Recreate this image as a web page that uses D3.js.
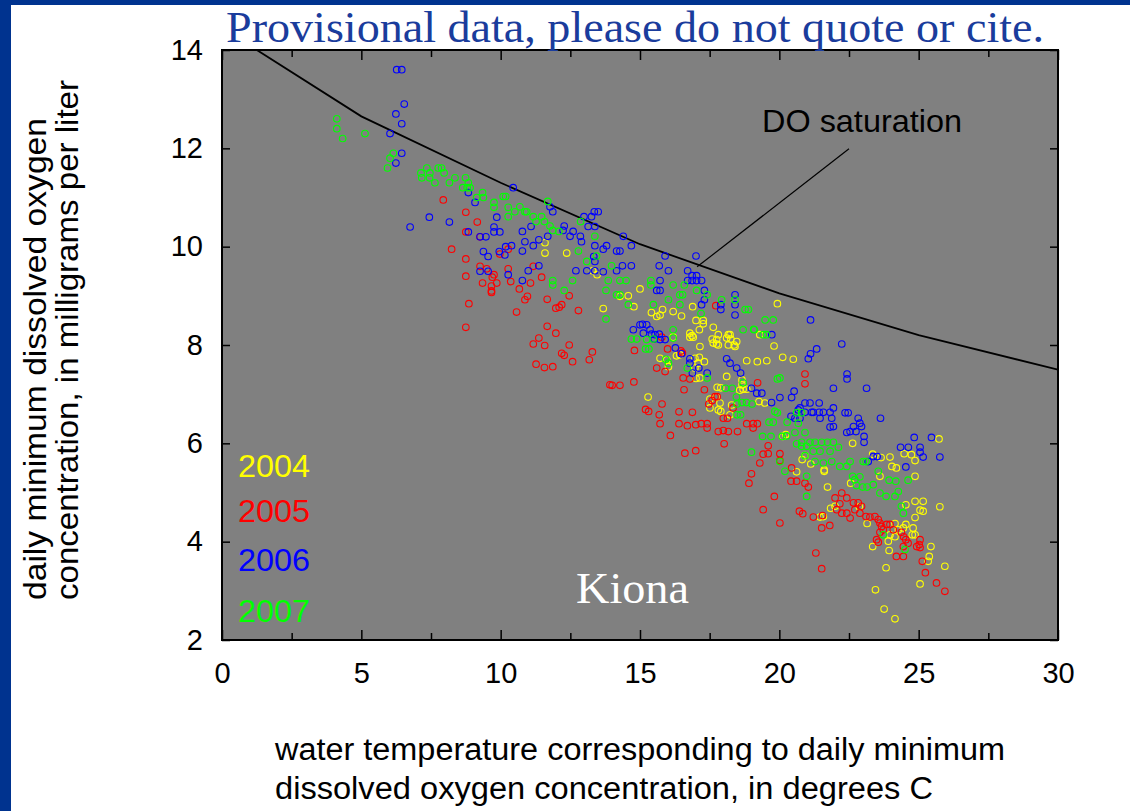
<!DOCTYPE html>
<html>
<head>
<meta charset="utf-8">
<script src="https://cdn.jsdelivr.net/npm/d3@7"></script>
<style>
  html, body { margin: 0; padding: 0; background: #ffffff; }
  svg { display: block; }
</style>
</head>
<body>
<svg id="chart" width="1130" height="811"></svg>
<script>
// ---------------- data (water temperature °C, daily minimum DO mg/L) ----------------
const years = ["2004", "2005", "2006", "2007"];
const yearColors = ["#ffff00", "#ff0000", "#0000ff", "#00ff00"];

const xTicksMajor = [0, 5, 10, 15, 20, 25, 30];
const xTicksMinor = [2.5, 7.5, 12.5, 17.5, 22.5, 27.5];
const yTicks = [2, 4, 6, 8, 10, 12, 14];

const satTemp = [0, 5, 10, 15, 20, 25, 30];
const satDO = [14.45, 12.65, 11.3, 10.05, 9.05, 8.2, 7.5];

const data2004 = [
[11.59,10.08],[11.59,9.87],[12.37,9.87],[13.46,9.43],[13.3,9.51],[15.0,9.14],[14.28,8.99],[14.58,9.0],[13.68,8.74],[14.78,8.78],
[15.41,8.66],[15.6,8.58],[15.81,8.72],[16.19,8.68],[16.49,8.59],[16.89,8.78],[17.01,8.5],[17.27,8.5],[17.13,8.31],[16.19,8.16],
[16.79,8.24],[16.91,8.16],[17.63,8.36],[17.81,8.21],[17.59,8.12],[17.81,8.0],[18.23,8.21],[18.11,8.14],[18.47,8.07],[18.41,7.97],
[19.3,8.21],[19.93,8.84],[19.81,7.98],[15.72,8.61],[17.27,8.43],[16.87,8.19],[16.79,8.16],[17.15,7.97],[18.17,8.21],[18.26,8.12],
[17.75,8.11],[17.63,8.04],[17.75,8.02],[18.17,8.0],[18.38,8.0],[18.83,7.68],[19.21,7.66],[19.55,7.68],[20.12,7.75],[20.5,7.71],
[15.72,7.73],[15.96,7.7],[16.02,7.56],[15.29,6.94],[16.43,7.8],[16.31,7.78],[16.97,7.73],[17.13,7.75],[17.31,7.66],[17.09,7.63],
[16.97,7.53],[17.15,7.33],[17.01,7.32],[18.11,7.36],[17.77,7.14],[17.9,7.13],[18.66,7.19],[18.7,7.1],[18.58,7.08],[18.83,7.1],
[18.66,7.29],[17.51,6.9],[17.75,6.95],[17.87,6.82],[17.51,6.72],[17.81,6.68],[17.9,6.65],[18.23,6.58],[18.29,6.78],[19.27,6.85],
[19.48,6.82],[20.12,6.14],[20.23,6.18],[20.62,5.42],[22.63,6.0],[23.35,5.78],[23.65,5.71],[23.97,5.72],[24.04,5.53],[24.2,5.5],
[24.48,5.79],[24.74,5.77],[24.87,5.65],[25.73,6.09],[24.87,5.33],[23.61,5.33],[25.76,4.71],[24.87,4.82],[25.16,4.82],[25.05,4.64],
[25.16,4.62],[24.87,4.49],[24.54,4.75],[24.15,4.37],[24.54,4.35],[24.27,4.24],[24.45,4.28],[24.77,4.14],[23.97,4.14],[24.15,4.1],
[23.91,4.01],[23.94,3.82],[23.35,3.9],[23.15,4.37],[22.87,4.71],[22.56,5.19],[21.73,5.11],[21.84,4.68],[22.0,4.72],[21.58,4.51],
[21.46,4.5],[21.13,5.58],[20.82,5.67],[20.92,5.75],[21.61,5.46],[21.61,5.43],[25.44,3.9],[25.38,3.7],[25.34,3.6],[25.94,3.5],
[25.05,3.14],[23.83,3.47],[23.45,3.02],[23.76,2.63],[24.15,2.43],[24.8,4.28],[24.87,4.14]
];

const data2005 = [
[7.94,10.95],[8.75,10.7],[9.16,10.5],[8.75,10.3],[9.26,10.2],[8.24,9.95],[10.27,9.95],[9.97,9.85],[8.75,9.75],[9.26,9.6],
[9.5,9.55],[10.27,9.55],[8.75,9.4],[9.35,9.26],[9.67,9.2],[9.67,9.1],[9.67,9.07],[9.86,9.26],[9.76,9.43],[9.7,9.38],
[10.36,9.29],[10.67,9.14],[11.07,9.26],[11.47,9.38],[8.86,8.84],[10.96,8.99],[10.87,8.92],[11.67,8.93],[12.46,9.0],[10.57,8.67],
[8.75,8.36],[11.98,8.75],[12.1,8.77],[12.19,8.82],[12.79,8.7],[11.67,8.38],[11.98,8.24],[11.37,8.14],[11.17,8.02],[11.58,7.99],
[12.46,8.0],[12.19,7.83],[12.28,7.79],[12.58,7.66],[13.29,7.86],[13.18,7.7],[11.27,7.61],[11.57,7.54],[11.87,7.56],[13.92,7.19],
[11.17,9.6],[17.72,8.8],[14.8,7.89],[14.0,7.18],[14.28,7.18],[14.78,7.25],[15.2,6.69],[15.31,6.65],[15.79,6.8],[15.69,6.58],
[15.72,6.4],[16.09,6.16],[16.4,6.4],[16.7,6.36],[17.0,6.38],[17.2,6.4],[17.41,6.4],[17.41,6.31],[16.4,6.64],[16.88,6.63],
[16.61,5.8],[17.0,5.85],[18.02,5.99],[17.81,6.24],[17.99,6.26],[18.17,6.24],[18.5,6.24],[18.83,6.4],[19.06,6.4],[19.06,6.31],
[17.47,6.8],[17.59,6.87],[17.69,6.95],[17.77,6.95],[17.99,6.51],[18.14,6.51],[18.34,6.72],[16.58,7.09],[17.31,7.09],[16.55,7.33],
[16.79,7.31],[16.47,7.88],[16.52,7.84],[15.9,7.46],[19.22,7.23],[19.21,6.4],[19.6,5.95],[19.6,5.79],[19.42,5.78],[19.3,5.6],
[19.0,5.38],[18.91,5.19],[19.82,4.92],[20.44,5.5],[20.42,5.23],[20.62,5.23],[15.78,8.16],[15.99,7.92],[15.6,7.53],[19.42,4.65],
[20.02,4.38],[20.92,7.41],[20.92,7.21],[20.02,5.79],[20.02,5.65],[20.92,5.19],[21.04,5.11],[20.72,4.62],[20.84,4.57],[21.22,4.5],
[21.55,4.53],[21.52,4.28],[21.81,4.33],[22.0,4.89],[22.24,4.99],[22.42,4.89],[22.17,4.77],[22.06,4.65],[22.24,4.58],[22.42,4.58],
[22.54,4.48],[22.66,4.79],[22.83,4.79],[22.95,4.72],[22.89,4.58],[22.71,4.65],[23.11,4.51],[23.25,4.5],[23.43,4.51],[23.55,4.45],
[23.61,4.38],[23.67,4.31],[23.85,4.35],[23.97,4.35],[24.09,4.24],[23.61,4.19],[23.73,4.24],[23.49,4.04],[23.55,3.99],[24.38,4.19],
[24.46,4.1],[24.54,4.04],[24.45,3.9],[24.62,3.97],[24.2,3.7],[24.45,3.7],[25.05,4.04],[25.02,3.94],[25.05,3.88],[24.93,3.9],
[25.13,3.6],[25.24,3.37],[25.64,3.16],[25.94,2.99],[21.31,3.77],[21.52,3.45]
];

const data2006 = [
[6.27,13.6],[6.45,13.6],[6.54,12.9],[6.24,12.7],[6.45,12.5],[6.03,12.3],[6.45,11.9],[6.24,11.7],[8.84,11.1],[9.08,10.9],
[9.86,10.6],[6.75,10.4],[7.44,10.6],[8.16,10.5],[9.76,10.4],[9.76,10.3],[9.97,10.3],[8.84,10.3],[9.26,10.2],[9.47,10.2],
[9.38,9.9],[9.55,9.8],[9.95,9.9],[9.26,9.5],[9.55,9.5],[10.45,11.2],[11.77,10.81],[11.87,10.71],[11.09,10.41],[10.78,10.31],
[10.87,10.1],[11.17,10.02],[11.37,10.14],[11.69,10.21],[12.28,10.42],[12.24,10.33],[12.49,10.21],[12.6,10.31],[12.86,10.21],[12.9,10.1],
[12.99,10.61],[13.26,10.61],[13.36,10.71],[13.5,10.71],[13.14,10.41],[13.38,10.41],[13.38,10.02],[13.68,9.95],[13.8,10.02],[13.34,9.8],
[13.38,9.7],[14.16,9.91],[14.28,9.91],[14.4,10.21],[14.69,10.02],[10.18,10.0],[10.39,10.02],[10.15,9.83],[10.78,9.91],[10.27,9.43],
[10.99,9.51],[10.78,9.31],[11.37,9.61],[12.7,9.51],[13.09,9.51],[13.38,9.51],[13.68,9.49],[14.16,9.51],[14.37,9.61],[14.69,9.61],
[15.9,9.81],[15.69,9.61],[16.02,9.51],[17.01,9.81],[16.71,9.51],[16.87,9.41],[17.03,9.41],[16.71,9.31],[16.87,9.31],[17.03,9.31],
[17.21,9.31],[15.72,9.31],[15.6,9.11],[15.72,9.11],[17.31,9.11],[17.31,8.92],[17.21,8.82],[18.41,9.02],[18.41,8.82],[18.41,8.61],
[17.9,8.82],[17.9,8.72],[19.73,8.21],[14.76,8.31],[15.0,8.41],[15.24,8.41],[15.36,8.31],[15.54,8.21],[15.72,8.11],[15.9,8.11],
[15.12,8.24],[16.27,7.94],[15.09,8.42],[15.41,8.22],[15.51,8.12],[15.69,8.22],[16.49,7.82],[16.79,7.72],[16.79,7.63],[16.88,7.43],
[17.11,7.53],[17.41,7.43],[18.11,7.72],[18.23,7.63],[18.47,7.53],[18.61,7.43],[19.0,7.12],[19.19,7.02],[19.37,7.02],[19.72,6.83],
[20.02,6.93],[20.44,6.93],[20.53,7.06],[20.42,6.55],[20.56,6.51],[20.68,6.68],[21.12,8.51],[22.24,8.02],[21.34,7.92],[21.12,7.82],
[21.04,7.72],[22.43,7.41],[22.43,7.31],[21.94,7.12],[23.13,7.12],[20.74,6.72],[20.92,6.82],[21.1,6.82],[21.43,6.82],[21.22,6.63],
[21.43,6.63],[21.58,6.63],[21.82,6.63],[21.94,6.72],[21.88,6.51],[21.94,6.34],[21.82,6.33],[21.46,6.51],[21.16,6.63],[20.92,6.63],
[20.74,6.51],[22.36,6.62],[22.47,6.62],[22.42,6.22],[22.54,6.24],[22.66,6.34],[22.75,6.24],[22.83,6.51],[22.89,6.41],[22.95,6.34],
[23.04,6.14],[23.04,6.02],[23.63,6.51],[23.37,5.73],[23.51,5.73],[23.19,5.63],[24.35,5.92],[24.63,5.92],[24.84,6.12],[25.05,5.92],
[25.05,5.82],[25.16,5.72],[24.54,5.52],[25.46,6.12],[25.76,5.72]
];

const data2007 = [
[4.12,12.6],[4.12,12.4],[4.33,12.2],[5.13,12.3],[6.15,11.9],[6.03,11.8],[5.94,11.6],[7.14,11.5],[7.35,11.6],[7.46,11.5],
[7.17,11.4],[7.45,11.4],[7.64,11.3],[7.76,11.6],[7.88,11.6],[7.97,11.5],[8.16,11.3],[8.36,11.4],[8.74,11.4],[8.84,11.3],
[8.64,11.2],[8.8,11.2],[8.9,11.2],[9.14,11.0],[9.35,11.1],[9.38,11.0],[9.76,10.9],[9.76,10.8],[10.09,11.02],[10.18,11.02],
[10.27,10.8],[10.51,10.71],[10.87,10.71],[10.69,10.81],[10.93,10.71],[10.27,10.61],[11.17,10.61],[11.27,10.51],[11.47,10.61],[11.57,10.51],
[11.69,10.92],[11.77,10.42],[11.87,10.33],[12.09,10.31],[12.87,10.51],[13.38,10.21],[12.79,9.91],[13.09,9.7],[13.44,9.81],[13.98,9.61],
[11.87,9.31],[11.87,9.22],[12.58,9.31],[13.86,9.31],[13.78,9.11],[12.28,9.11],[14.28,9.31],[14.5,9.31],[14.16,9.02],[14.28,9.02],
[14.58,8.82],[15.39,9.31],[15.39,9.22],[15.48,8.82],[16.19,9.22],[16.43,9.02],[16.53,9.02],[16.02,8.92],[16.59,9.22],[17.03,9.11],
[17.41,9.02],[16.43,8.82],[17.19,8.64],[17.93,8.92],[18.41,8.92],[18.77,8.72],[18.89,8.72],[19.49,8.51],[19.78,8.51],[19.1,8.31],
[19.42,8.21],[19.54,8.21],[18.7,8.31],[16.19,8.31],[16.19,8.14],[15.24,8.11],[14.69,8.12],[14.88,8.12],[13.78,8.53],[15.2,7.92],
[15.32,7.92],[15.48,8.12],[15.93,7.71],[16.02,7.63],[16.7,7.53],[17.41,7.33],[18.07,7.12],[18.31,7.12],[18.46,6.94],[18.48,6.8],
[18.66,6.83],[18.82,6.83],[19.02,6.8],[18.7,7.23],[19.08,8.32],[19.93,7.31],[18.48,6.58],[18.61,6.58],[19.0,5.82],[19.4,6.14],
[19.7,6.14],[20.1,6.14],[19.63,6.43],[19.78,6.43],[19.84,6.65],[19.93,6.62],[20.28,6.43],[20.56,6.22],[20.62,5.99],[20.02,5.63],
[20.02,7.33],[20.62,6.62],[20.8,6.62],[20.68,6.41],[20.92,6.22],[20.26,6.15],[20.8,6.02],[21.1,6.02],[21.28,6.02],[21.52,6.02],
[21.73,6.02],[21.94,6.02],[22.12,5.92],[20.8,5.94],[20.98,5.94],[21.22,5.84],[21.46,5.84],[21.82,5.84],[20.92,5.75],[21.28,5.63],
[21.58,5.6],[21.88,5.63],[22.17,5.53],[22.42,5.53],[22.54,5.63],[23.01,5.63],[23.11,5.63],[20.2,5.43],[20.98,4.92],[20.98,5.33],
[22.63,5.33],[22.71,5.26],[22.89,5.32],[22.77,5.14],[22.99,5.11],[23.15,5.11],[23.37,5.16],[23.61,4.99],[23.83,4.92],[24.15,4.92],
[24.27,5.02],[23.55,5.43],[23.94,5.25],[24.18,5.23],[24.62,5.25],[24.38,4.72],[24.45,4.58],[24.51,3.84],[23.73,4.14]
];

const allSeries = [data2004, data2005, data2006, data2007];

// ---------------- layout ----------------
const svg = d3.select("#chart");
const W = 1130, H = 811;
const plot = { left: 222, right: 1058, top: 50, bottom: 640 };

const x = d3.scaleLinear().domain([0, 30]).range([plot.left, plot.right]);
const y = d3.scaleLinear().domain([2, 14]).range([plot.bottom, plot.top]);

// slide frame
svg.append("rect").attr("x", 0).attr("y", 0).attr("width", W).attr("height", H).attr("fill", "#ffffff");
svg.append("rect").attr("x", 0).attr("y", 0).attr("width", W).attr("height", 5).attr("fill", "#00338f");
svg.append("rect").attr("x", 0).attr("y", 0).attr("width", 11).attr("height", H).attr("fill", "#00338f");

// plot background
svg.append("rect")
  .attr("x", plot.left).attr("y", plot.top)
  .attr("width", plot.right - plot.left).attr("height", plot.bottom - plot.top)
  .attr("fill", "#808080");

svg.append("defs").append("clipPath").attr("id", "clip")
  .append("rect")
  .attr("x", plot.left).attr("y", plot.top)
  .attr("width", plot.right - plot.left).attr("height", plot.bottom - plot.top);

// saturation curve
const satPts = satTemp.map((t, i) => [t, satDO[i]]);
svg.append("path")
  .datum(satPts)
  .attr("clip-path", "url(#clip)")
  .attr("fill", "none")
  .attr("stroke", "#000")
  .attr("stroke-width", 1.8)
  .attr("d", d3.line().x(d => x(d[0])).y(d => y(d[1])));

// points
const pointsG = svg.append("g").attr("clip-path", "url(#clip)");
allSeries.forEach((series, i) => {
  pointsG.append("g")
    .selectAll("circle")
    .data(series)
    .join("circle")
    .attr("cx", d => x(d[0]))
    .attr("cy", d => y(d[1]))
    .attr("r", 3.3)
    .attr("fill", "none")
    .attr("stroke", yearColors[i])
    .attr("stroke-width", 1.1);
});

// axes (ticks pointing inward)
const tickFont = "Liberation Sans, Arial, sans-serif";
function styleAxis(g) {
  g.select(".domain").remove();
  g.selectAll(".tick line").attr("stroke", "#000").attr("stroke-width", 1.5);
  g.selectAll(".tick text").attr("fill", "#000").style("font-family", tickFont).style("font-size", "29px");
}

svg.append("g").attr("transform", `translate(0,${plot.bottom})`)
  .call(d3.axisBottom(x).tickValues(xTicksMajor).tickFormat(d3.format("d")).tickSize(-10).tickPadding(22))
  .call(styleAxis);
svg.append("g").attr("transform", `translate(0,${plot.bottom})`)
  .call(d3.axisBottom(x).tickValues(xTicksMinor).tickFormat("").tickSize(-7))
  .call(styleAxis);
svg.append("g").attr("transform", `translate(0,${plot.top})`)
  .call(d3.axisTop(x).tickValues(xTicksMajor).tickFormat("").tickSize(-10))
  .call(styleAxis);
svg.append("g").attr("transform", `translate(0,${plot.top})`)
  .call(d3.axisTop(x).tickValues(xTicksMinor).tickFormat("").tickSize(-7))
  .call(styleAxis);
svg.append("g").attr("transform", `translate(${plot.left},0)`)
  .call(d3.axisLeft(y).tickValues(yTicks).tickFormat(d3.format("d")).tickSize(-8).tickPadding(19))
  .call(styleAxis);
svg.append("g").attr("transform", `translate(${plot.right},0)`)
  .call(d3.axisRight(y).tickValues(yTicks).tickFormat("").tickSize(-8))
  .call(styleAxis);

// plot border
svg.append("rect")
  .attr("x", plot.left).attr("y", plot.top)
  .attr("width", plot.right - plot.left).attr("height", plot.bottom - plot.top)
  .attr("fill", "none").attr("stroke", "#000").attr("stroke-width", 2);

// title
svg.append("text")
  .attr("x", 226).attr("y", 42)
  .attr("textLength", 818).attr("lengthAdjust", "spacingAndGlyphs")
  .style("font-family", "Liberation Serif, Times New Roman, serif")
  .style("font-size", "45px")
  .attr("fill", "#1a3c9c")
  .text("Provisional data, please do not quote or cite.");

// DO saturation annotation
svg.append("text")
  .attr("x", 762).attr("y", 132)
  .attr("textLength", 200).attr("lengthAdjust", "spacingAndGlyphs")
  .style("font-family", tickFont).style("font-size", "32px")
  .attr("fill", "#000")
  .text("DO saturation");
svg.append("line")
  .attr("x1", x(22.5)).attr("y1", y(11.99))
  .attr("x2", x(17.05)).attr("y2", y(9.59))
  .attr("stroke", "#000").attr("stroke-width", 1.2);

// legend
const legendY = [477, 522, 571, 622];
years.forEach((yr, i) => {
  svg.append("text")
    .attr("x", 238).attr("y", legendY[i])
    .attr("textLength", 72).attr("lengthAdjust", "spacingAndGlyphs")
    .style("font-family", tickFont).style("font-size", "31px")
    .attr("fill", yearColors[i])
    .text(yr);
});

// site label
svg.append("text")
  .attr("x", 576).attr("y", 603)
  .attr("textLength", 113).attr("lengthAdjust", "spacingAndGlyphs")
  .style("font-family", "Liberation Serif, Times New Roman, serif")
  .style("font-size", "45px")
  .attr("fill", "#ffffff")
  .text("Kiona");

// x axis title
const xTitle = ["water temperature corresponding to daily minimum", "dissolved oxygen concentration, in degrees C"];
const xTitleLen = [730, 658];
xTitle.forEach((t, i) => {
  svg.append("text")
    .attr("x", 275).attr("y", 760 + i * 39)
    .attr("textLength", xTitleLen[i]).attr("lengthAdjust", "spacingAndGlyphs")
    .style("font-family", tickFont).style("font-size", "31px")
    .attr("fill", "#000")
    .text(t);
});

// y axis title
const yTitle = ["daily minimum dissolved oxygen", "concentration, in milligrams per liter"];
const yTitleLen = [482, 520];
yTitle.forEach((t, i) => {
  svg.append("text")
    .attr("transform", `translate(${46 + i * 32},600) rotate(-90)`)
    .attr("textLength", yTitleLen[i]).attr("lengthAdjust", "spacingAndGlyphs")
    .style("font-family", tickFont).style("font-size", "31px")
    .attr("fill", "#000")
    .text(t);
});
</script>
</body>
</html>
